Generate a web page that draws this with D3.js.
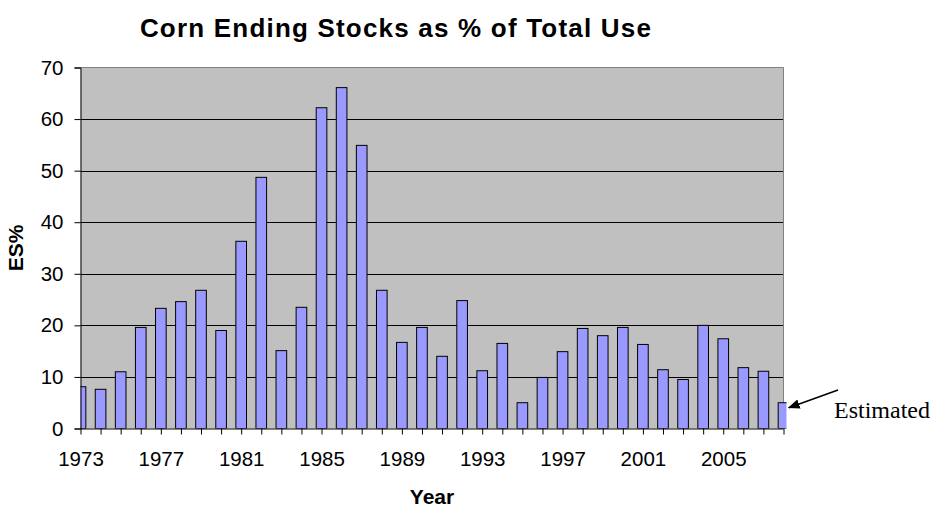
<!DOCTYPE html>
<html>
<head>
<meta charset="utf-8">
<script src="https://cdn.jsdelivr.net/npm/d3@7.9.0/dist/d3.min.js"></script>
<style>
  body { margin: 0; background: #fff; }
  svg { display: block; font-family: "Liberation Sans", Arial, sans-serif; }
</style>
</head>
<body>
<svg id="chart" width="936" height="517"></svg>
<script>
// Corn ending stocks as % of total use
const years = d3.range(1973, 2009);
const stocksPct = [8.1, 7.6, 11.0, 19.6, 23.3, 24.6, 26.8, 19.0, 36.3, 48.7,
                   15.1, 23.5, 62.2, 66.1, 54.9, 26.8, 16.7, 19.6, 14.0, 24.8,
                   11.2, 16.5, 5.0, 9.9, 14.9, 19.4, 18.0, 19.6, 16.3, 11.4,
                   9.5, 20.0, 17.4, 11.8, 11.1, 5.0];
const yTicks = [0, 10, 20, 30, 40, 50, 60, 70];
const xLabelYears = [1973, 1977, 1981, 1985, 1989, 1993, 1997, 2001, 2005];

const data = years.map((y, i) => ({ year: y, value: stocksPct[i] }));

const svg = d3.select("#chart");
const plotL = 80.5, plotR = 783.5, plotT = 67.5, plotB = 428.5;

// categories sit on the tick marks (bars are centred on them)
const x = d3.scalePoint().domain(years).range([plotL, plotR]).padding(0);
const y = d3.scaleLinear().domain([0, 70]).range([plotB, plotT]);
const barW = x.step() * 0.53;

// plot background
svg.append("rect")
    .attr("x", plotL).attr("y", plotT)
    .attr("width", plotR - plotL).attr("height", plotB - plotT)
    .attr("fill", "#c0c0c0");

// gridlines
svg.append("g")
    .selectAll("line")
    .data(yTicks.filter(t => t > 0 && t < 70))
    .join("line")
    .attr("x1", plotL).attr("x2", plotR)
    .attr("y1", d => Math.round(y(d)) + 0.5).attr("y2", d => Math.round(y(d)) + 0.5)
    .attr("stroke", "#000").attr("stroke-width", 1);

// plot border (top / right)
svg.append("path")
    .attr("d", `M${plotL},${plotT}H${plotR}V${plotB}`)
    .attr("fill", "none").attr("stroke", "#808080");

// bars, clipped at the plot edges
svg.append("clipPath").attr("id", "plotclip")
    .append("rect")
    .attr("x", plotL).attr("y", plotT - 2)
    .attr("width", plotR - plotL + 3).attr("height", plotB - plotT + 2);

svg.append("g")
    .attr("clip-path", "url(#plotclip)")
    .selectAll("rect")
    .data(data)
    .join("rect")
    .attr("x", d => x(d.year) - barW / 2)
    .attr("y", d => y(d.value))
    .attr("width", barW)
    .attr("height", d => plotB - y(d.value))
    .attr("fill", "#9999ff")
    .attr("stroke", "#000")
    .attr("stroke-width", 1);

// y axis
const yAxis = d3.axisLeft(y).tickValues(yTicks).tickSize(6).tickPadding(11);
const gy = svg.append("g").attr("transform", `translate(${plotL},0)`).call(yAxis);
gy.select(".domain").attr("stroke", "#000");
gy.selectAll("text").attr("font-size", 20.5).attr("fill", "#000")
    .attr("font-family", "Liberation Sans, Arial, sans-serif");

// x axis: tick on every year, label every fourth
const xAxis = d3.axisBottom(x).tickSize(6).tickPadding(17)
    .tickFormat(d => xLabelYears.includes(d) ? d : "");
const gx = svg.append("g").attr("transform", `translate(0,${plotB})`).call(xAxis);
gx.select(".domain").attr("d", `M${plotL},0.5H${plotR}`).attr("stroke", "#000");
gx.selectAll("text").attr("font-size", 20.5).attr("fill", "#000")
    .attr("font-family", "Liberation Sans, Arial, sans-serif");

// title and axis titles
svg.append("text")
    .attr("x", 396).attr("y", 37)
    .attr("text-anchor", "middle")
    .attr("font-size", 26).attr("font-weight", "bold")
    .attr("letter-spacing", 1.2)
    .text("Corn Ending Stocks as % of Total Use");

svg.append("text")
    .attr("transform", "translate(23,248) rotate(-90)")
    .attr("text-anchor", "middle")
    .attr("font-size", 21).attr("font-weight", "bold")
    .text("ES%");

svg.append("text")
    .attr("x", 432).attr("y", 504)
    .attr("text-anchor", "middle")
    .attr("font-size", 21).attr("font-weight", "bold")
    .text("Year");

// "Estimated" note with arrow to the last bar
const last = data[data.length - 1];
svg.append("defs").append("marker")
    .attr("id", "arrowhead")
    .attr("viewBox", "0 0 10 10")
    .attr("refX", 9).attr("refY", 5)
    .attr("markerWidth", 8).attr("markerHeight", 8)
    .attr("orient", "auto")
    .append("path").attr("d", "M0,1L10,5L0,9z").attr("fill", "#000");

svg.append("line")
    .attr("x1", 838).attr("y1", 390)
    .attr("x2", x(last.year) + barW / 2).attr("y2", y(last.value) + 5)
    .attr("stroke", "#000").attr("stroke-width", 1.5)
    .attr("marker-end", "url(#arrowhead)");

svg.append("text")
    .attr("x", 834).attr("y", 418)
    .attr("font-family", "Liberation Serif, Times New Roman, serif")
    .attr("font-size", 24)
    .text("Estimated");
</script>
</body>
</html>
